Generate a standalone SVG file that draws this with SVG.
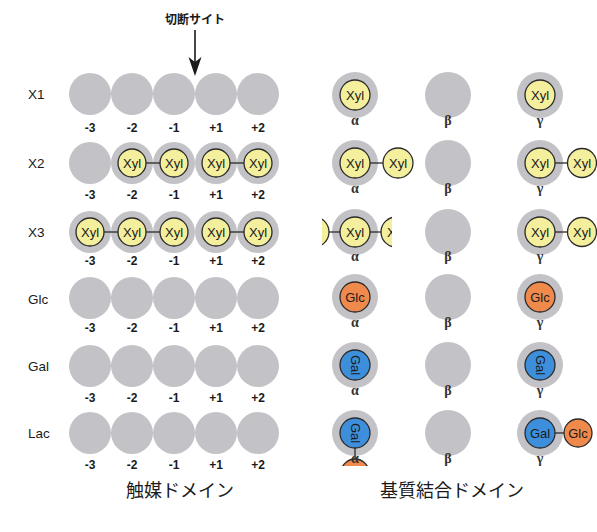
<svg xmlns="http://www.w3.org/2000/svg" width="597" height="532" viewBox="0 0 597 532">
<style>
text{font-family:"Liberation Sans",Arial,sans-serif;fill:#1a1a1a}
.g{fill:#c3c3c7}
.xyl{fill:#f3ef9c;stroke:#2a2a2a;stroke-width:1.3}
.glc{fill:#f0894c;stroke:#2a2a2a;stroke-width:1.3}
.gal{fill:#3e8fdb;stroke:#2a2a2a;stroke-width:1.3}
.t{font-size:13px;text-anchor:middle;dominant-baseline:central}
.row{font-size:13.5px}
.num{font-size:12px;font-weight:bold;text-anchor:middle}
.gr{font-family:"Liberation Serif","Times New Roman",serif;font-size:14px;font-weight:bold;text-anchor:middle;fill:#333}
.cap{font-family:"Noto Sans CJK JP",sans-serif;font-size:18px;text-anchor:middle}
.lk{stroke:#2a2a2a;stroke-width:1.3}
</style>
<defs>
<clipPath id="cx3"><rect x="322" y="210" width="70" height="45"/></clipPath>
<clipPath id="clac"><rect x="330" y="440" width="50" height="26"/></clipPath>
</defs>

<g id="title">
<text x="195" y="24" style="font-family:'Noto Sans CJK JP',sans-serif;font-size:12px;font-weight:bold;text-anchor:middle">切断サイト</text>
<line x1="195" y1="30" x2="195" y2="64" stroke="#1a1a1a" stroke-width="1.6"/>
<path d="M195,76 L188.5,57 L195,62 L201.5,57 Z" fill="#1a1a1a"/>
</g>

<g id="rowlabels" class="row">
<text x="28" y="99">X1</text>
<text x="28" y="168">X2</text>
<text x="28" y="237">X3</text>
<text x="28" y="304">Glc</text>
<text x="28" y="371">Gal</text>
<text x="28" y="438">Lac</text>
</g>

<!-- catalytic domain -->
<g id="cat-X1">
<circle class="g" cx="90" cy="94" r="21"/><circle class="g" cx="132" cy="94" r="21"/><circle class="g" cx="174" cy="94" r="21"/><circle class="g" cx="216" cy="94" r="21"/><circle class="g" cx="258" cy="94" r="21"/>
<text class="num" x="90" y="132">-3</text><text class="num" x="132" y="132">-2</text><text class="num" x="174" y="132">-1</text><text class="num" x="216" y="132">+1</text><text class="num" x="258" y="132">+2</text>
</g>
<g id="cat-X2">
<circle class="g" cx="90" cy="163" r="21"/><circle class="g" cx="132" cy="163" r="21"/><circle class="g" cx="174" cy="163" r="21"/><circle class="g" cx="216" cy="163" r="21"/><circle class="g" cx="258" cy="163" r="21"/>
<circle class="xyl" cx="132" cy="163" r="14"/><circle class="xyl" cx="174" cy="163" r="14"/><circle class="xyl" cx="216" cy="163" r="14"/><circle class="xyl" cx="258" cy="163" r="14"/>
<text class="t" x="132" y="163">Xyl</text><text class="t" x="174" y="163">Xyl</text><text class="t" x="216" y="163">Xyl</text><text class="t" x="258" y="163">Xyl</text>
<text class="num" x="90" y="199">-3</text><text class="num" x="132" y="199">-2</text><text class="num" x="174" y="199">-1</text><text class="num" x="216" y="199">+1</text><text class="num" x="258" y="199">+2</text>
</g>
<g id="cat-X3">
<circle class="g" cx="90" cy="232" r="21"/><circle class="g" cx="132" cy="232" r="21"/><circle class="g" cx="174" cy="232" r="21"/><circle class="g" cx="216" cy="232" r="21"/><circle class="g" cx="258" cy="232" r="21"/>
<circle class="xyl" cx="90" cy="232" r="14"/><circle class="xyl" cx="132" cy="232" r="14"/><circle class="xyl" cx="174" cy="232" r="14"/><circle class="xyl" cx="216" cy="232" r="14"/><circle class="xyl" cx="258" cy="232" r="14"/>
<text class="t" x="90" y="232">Xyl</text><text class="t" x="132" y="232">Xyl</text><text class="t" x="174" y="232">Xyl</text><text class="t" x="216" y="232">Xyl</text><text class="t" x="258" y="232">Xyl</text>
<text class="num" x="90" y="265">-3</text><text class="num" x="132" y="265">-2</text><text class="num" x="174" y="265">-1</text><text class="num" x="216" y="265">+1</text><text class="num" x="258" y="265">+2</text>
</g>
<g id="cat-Glc">
<circle class="g" cx="90" cy="298" r="21"/><circle class="g" cx="132" cy="298" r="21"/><circle class="g" cx="174" cy="298" r="21"/><circle class="g" cx="216" cy="298" r="21"/><circle class="g" cx="258" cy="298" r="21"/>
<text class="num" x="90" y="332">-3</text><text class="num" x="132" y="332">-2</text><text class="num" x="174" y="332">-1</text><text class="num" x="216" y="332">+1</text><text class="num" x="258" y="332">+2</text>
</g>
<g id="cat-Gal">
<circle class="g" cx="90" cy="366" r="21"/><circle class="g" cx="132" cy="366" r="21"/><circle class="g" cx="174" cy="366" r="21"/><circle class="g" cx="216" cy="366" r="21"/><circle class="g" cx="258" cy="366" r="21"/>
<text class="num" x="90" y="402">-3</text><text class="num" x="132" y="402">-2</text><text class="num" x="174" y="402">-1</text><text class="num" x="216" y="402">+1</text><text class="num" x="258" y="402">+2</text>
</g>
<g id="cat-Lac">
<circle class="g" cx="90" cy="433" r="21"/><circle class="g" cx="132" cy="433" r="21"/><circle class="g" cx="174" cy="433" r="21"/><circle class="g" cx="216" cy="433" r="21"/><circle class="g" cx="258" cy="433" r="21"/>
<text class="num" x="90" y="469">-3</text><text class="num" x="132" y="469">-2</text><text class="num" x="174" y="469">-1</text><text class="num" x="216" y="469">+1</text><text class="num" x="258" y="469">+2</text>
</g>

<!-- substrate binding domain -->
<g id="sb-X1">
<circle class="g" cx="355" cy="95" r="23"/><circle class="xyl" cx="355" cy="95" r="15"/><text class="t" x="355" y="95">Xyl</text>
<circle class="g" cx="448" cy="95" r="23"/>
<circle class="g" cx="540" cy="95" r="23"/><circle class="xyl" cx="540" cy="95" r="15"/><text class="t" x="540" y="95">Xyl</text>
<text class="gr" x="355" y="125">α</text><text class="gr" x="448" y="125">β</text><text class="gr" x="540" y="125">γ</text>
</g>
<g id="sb-X2">
<circle class="g" cx="355" cy="163" r="23"/><circle class="xyl" cx="355" cy="163" r="15"/><text class="t" x="355" y="163">Xyl</text>
<circle class="xyl" cx="398" cy="163" r="15"/><text class="t" x="398" y="163">Xyl</text>
<circle class="g" cx="448" cy="163" r="23"/>
<circle class="g" cx="540" cy="163" r="23"/><circle class="xyl" cx="540" cy="163" r="15"/><text class="t" x="540" y="163">Xyl</text>
<circle class="xyl" cx="582" cy="163" r="14.5"/><text class="t" x="582" y="163">Xyl</text>
<text class="gr" x="355" y="193">α</text><text class="gr" x="448" y="193">β</text><text class="gr" x="540" y="193">γ</text>
</g>
<g id="sb-X3">
<circle class="g" cx="355" cy="232" r="23"/><circle class="xyl" cx="355" cy="232" r="15"/><text class="t" x="355" y="232">Xyl</text>
<g clip-path="url(#cx3)">
<circle class="xyl" cx="314" cy="232" r="15"/>
<circle class="xyl" cx="396" cy="232" r="15"/><text class="t" x="396" y="232">Xyl</text>
</g>
<circle class="g" cx="448" cy="232" r="23"/>
<circle class="g" cx="540" cy="232" r="23"/><circle class="xyl" cx="540" cy="232" r="15"/><text class="t" x="540" y="232">Xyl</text>
<circle class="xyl" cx="582" cy="232" r="14.5"/><text class="t" x="582" y="232">Xyl</text>
<text class="gr" x="355" y="261">α</text><text class="gr" x="448" y="261">β</text><text class="gr" x="540" y="261">γ</text>
</g>
<g id="sb-Glc">
<circle class="g" cx="355" cy="297" r="23"/><circle class="glc" cx="355" cy="297" r="15"/><text class="t" x="355" y="297">Glc</text>
<circle class="g" cx="448" cy="297" r="23"/>
<circle class="g" cx="540" cy="297" r="23"/><circle class="glc" cx="540" cy="297" r="15"/><text class="t" x="540" y="297">Glc</text>
<text class="gr" x="355" y="327">α</text><text class="gr" x="448" y="327">β</text><text class="gr" x="540" y="327">γ</text>
</g>
<g id="sb-Gal">
<circle class="g" cx="355" cy="365" r="23"/><circle class="gal" cx="355" cy="365" r="15"/><text class="t" transform="translate(355 365) rotate(90)">Gal</text>
<circle class="g" cx="448" cy="365" r="23"/>
<circle class="g" cx="540" cy="365" r="23"/><circle class="gal" cx="540" cy="365" r="15"/><text class="t" transform="translate(540 365) rotate(90)">Gal</text>
<text class="gr" x="355" y="395">α</text><text class="gr" x="448" y="395">β</text><text class="gr" x="540" y="395">γ</text>
</g>
<g id="sb-Lac">
<circle class="g" cx="355" cy="433" r="23"/><circle class="gal" cx="355" cy="433" r="15"/><text class="t" transform="translate(355 433) rotate(90)">Gal</text>
<g clip-path="url(#clac)"><circle class="glc" cx="355" cy="473" r="14"/></g>
<circle class="g" cx="448" cy="433" r="23"/>
<circle class="g" cx="540" cy="433" r="23"/><circle class="gal" cx="540" cy="433" r="15"/><text class="t" x="540" y="433">Gal</text>
<circle class="glc" cx="578" cy="433" r="14"/><text class="t" x="578" y="433">Glc</text>
<text class="gr" x="355" y="463">α</text><text class="gr" x="448" y="463">β</text><text class="gr" x="540" y="463">γ</text>
</g>

<g id="connectors">
<line class="lk" x1="146" y1="163" x2="160" y2="163"/>
<line class="lk" x1="230" y1="163" x2="244" y2="163"/>
<line class="lk" x1="104" y1="232" x2="118" y2="232"/>
<line class="lk" x1="146" y1="232" x2="160" y2="232"/>
<line class="lk" x1="230" y1="232" x2="244" y2="232"/>
<line class="lk" x1="370" y1="163" x2="383" y2="163"/>
<line class="lk" x1="555" y1="163" x2="567.5" y2="163"/>
<line class="lk" x1="329" y1="232" x2="340" y2="232"/>
<line class="lk" x1="370" y1="232" x2="381" y2="232"/>
<line class="lk" x1="555" y1="232" x2="567.5" y2="232"/>
<line class="lk" x1="355" y1="448" x2="355" y2="459"/>
<line class="lk" x1="555" y1="433" x2="564" y2="433"/>
</g>

<g id="captions">
<text class="cap" x="180" y="497">触媒ドメイン</text>
<text class="cap" x="452" y="497">基質結合ドメイン</text>
</g>
</svg>
